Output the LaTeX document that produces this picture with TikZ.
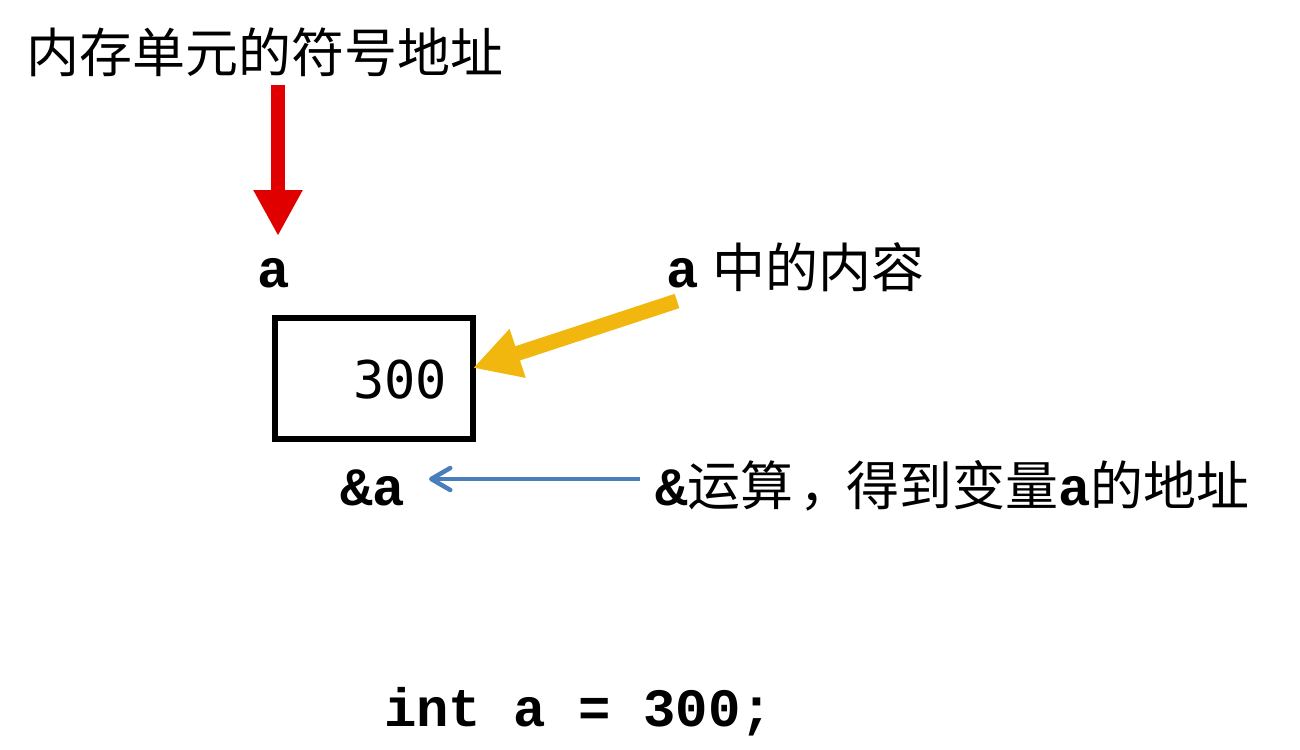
\documentclass[tikz,border=0pt]{standalone}
\usepackage{fontspec}
\setmonofont{Liberation Mono}
\newfontfamily\cjkfam{Noto Sans CJK SC}
\newfontfamily\digitfam{DejaVu Sans Mono}
\usetikzlibrary{arrows.meta}
\definecolor{redarrow}{RGB}{224,0,0}
\definecolor{goldarrow}{RGB}{242,183,15}
\definecolor{bluearrow}{RGB}{74,126,187}
\newcommand\mycode{\fontsize{54}{60}\selectfont\ttfamily\bfseries}
\newcommand\mycjk{\fontsize{53}{60}\selectfont\cjkfam\mdseries}
\begin{document}
\begin{tikzpicture}[x=1pt,y=-1pt,
  txt/.style={inner sep=0pt, outer sep=0pt},
  cell/.style={draw, line width=6pt, minimum width=198pt, minimum height=121pt, inner sep=0pt},
]
\fill[white] (0,0) rectangle (1300,749);
\useasboundingbox (0,0) rectangle (1300,749);

\node[txt, font=\mycjk] (title) at (265,52) {内存单元的符号地址};
\node[txt, anchor=base west, font=\mycode] (avar) at (257,287) {a};
\node[cell] (box) at (374,378.5) {};
\node[txt, anchor=base east, font=\fontsize{52}{60}\selectfont\digitfam] (val) at (447,398) {300};
\node[txt, anchor=base west] (content) at (666,287) {\mycode a\hspace{14pt}\mycjk 中的内容};
\node[txt, anchor=base west] (addr) at (340,505) {\mycode\&a};
\node[txt, anchor=base west] (oplabel) at (655,505) {\mycode\&\mycjk 运算\hspace{6pt}，\hspace{-6pt}得到变量\mycode a\mycjk 的地址};
\node[txt, anchor=base west] (decl) at (384,726) {\mycode int a = 300;};

\coordinate (rtop) at (278,85);
\coordinate (rtip) at (278,236);
\coordinate (ytail) at (677,301);
\coordinate (ytip) at (473,368);
\coordinate (btail) at (640,479);
\coordinate (btip) at (429,479);

\draw[redarrow, line width=14pt, -{Triangle[width=46pt,length=46pt]}] (rtop) -- (rtip);
\draw[goldarrow, line width=15pt, -{Triangle[width=48pt,length=47pt]}] (ytail) -- (ytip);
\draw[bluearrow, line width=4.5pt, -{Straight Barb[width=22pt,length=19pt,round]}] (btail) -- (btip);
\end{tikzpicture}
\end{document}
